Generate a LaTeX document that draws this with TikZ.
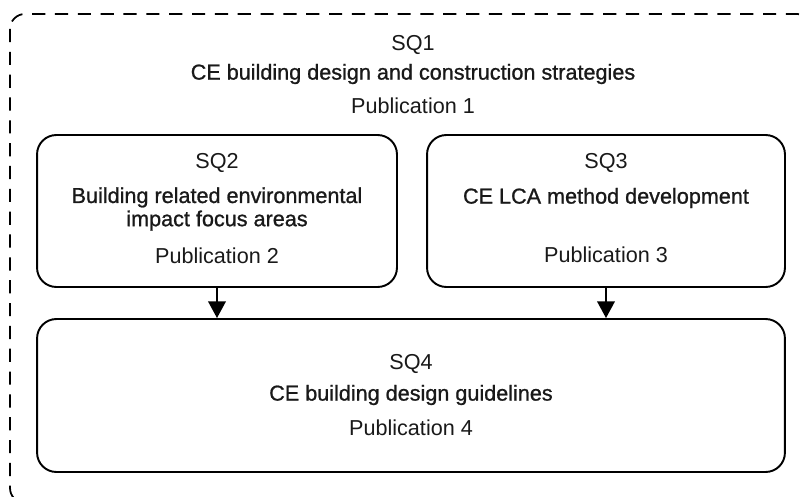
\documentclass[tikz,border=0pt]{standalone}
\usepackage{fontspec}
\setmainfont{Liberation Sans}
\newfontfamily\titlefont{Liberation Sans}[FakeBold=1]
\usetikzlibrary{positioning, arrows.meta}
\tikzset{>={Triangle[width=10pt,length=9.5pt]}}

\begin{document}
\begin{tikzpicture}[x=0.02cm, y=-0.02cm, every node/.append style={font=\fontsize{12.3}{13.2}\selectfont, text=black!90, align=center, inner sep=0pt}, sqbox/.style={draw, line width=1.1pt, rounded corners=11pt}, ttl/.style={font=\fontsize{12.3}{13.2}\selectfont\titlefont}]
    \useasboundingbox (0,0) rectangle (805,497);
    \draw[line width=1pt, dash pattern=on 7.5pt off 5.5pt, rounded corners=8.5pt] (10,14) rectangle (812,503);
    \node at (413,45) (sq1num) {SQ1};
    \node[ttl] at (413,74) (sq1ttl) {CE building design and construction strategies};
    \node at (413,106) (sq1pub) {Publication 1};
    \node[sqbox, minimum width=7.2cm, minimum height=3.04cm] at (217,211) (sq2) {};
    \node[sqbox, minimum width=7.16cm, minimum height=3.04cm] at (606,211) (sq3) {};
    \node[sqbox, minimum width=14.96cm, minimum height=3.06cm] at (411,395.5) (sq4) {};
    \node at (217,163) (sq2num) {SQ2};
    \node[ttl] at (217,209) (sq2ttl) {Building related environmental\\impact focus areas};
    \node at (217,256) (sq2pub) {Publication 2};
    \node at (606,163) (sq3num) {SQ3};
    \node[ttl] at (606,198) (sq3ttl) {CE LCA method development};
    \node at (606,255) (sq3pub) {Publication 3};
    \node at (411,364) (sq4num) {SQ4};
    \node[ttl] at (411,395) (sq4ttl) {CE building design guidelines};
    \node at (411,428) (sq4pub) {Publication 4};
    \draw[->, line width=1.1pt] (sq2) -- (sq2 |- sq4.north);
    \draw[->, line width=1.1pt] (sq3) -- (sq3 |- sq4.north);
\end{tikzpicture}
\end{document}
